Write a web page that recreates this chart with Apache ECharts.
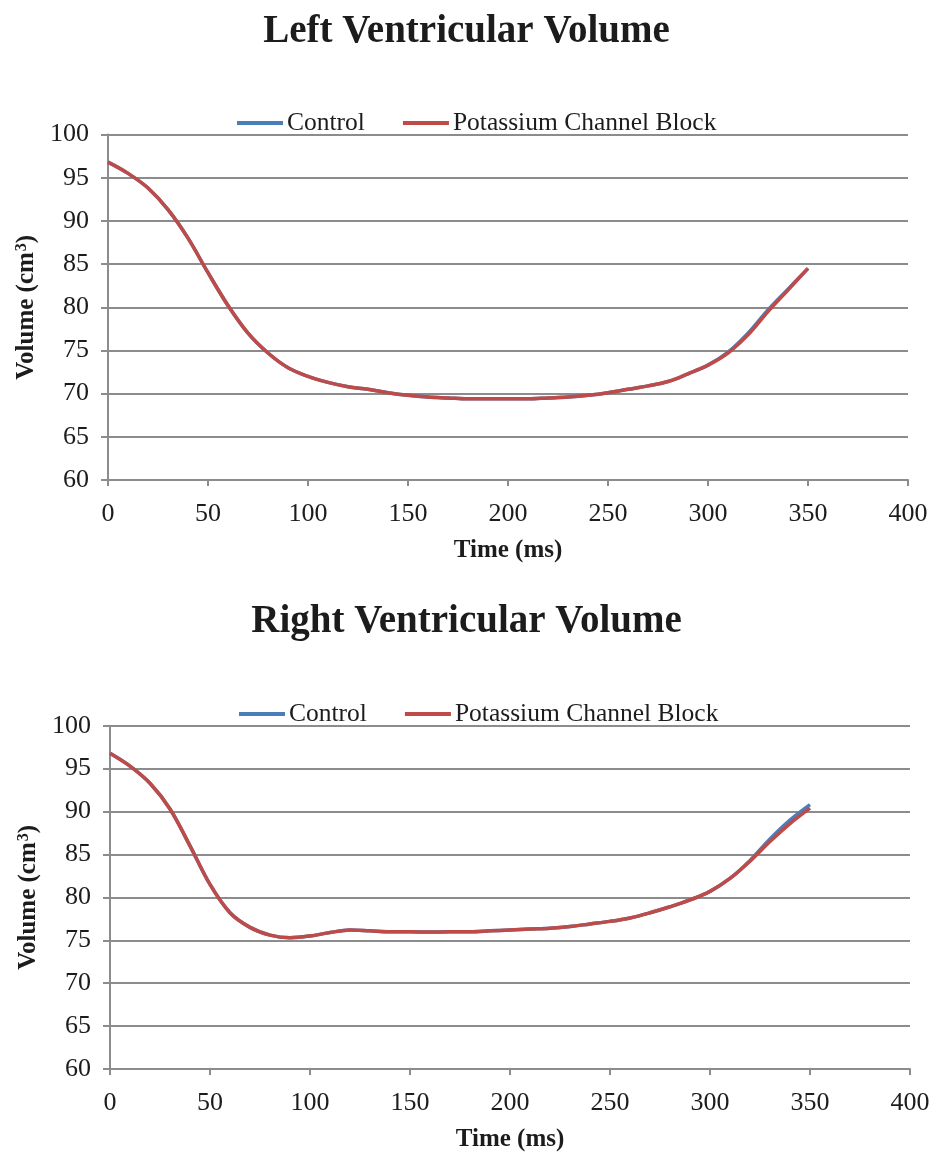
<!DOCTYPE html>
<html>
<head>
<meta charset="utf-8">
<script src="https://cdn.jsdelivr.net/npm/echarts@6/dist/echarts.min.js"></script>
<style>
  html, body { margin: 0; padding: 0; background: #fff; }
  #chart { width: 933px; height: 1153px; }
</style>
</head>
<body>
<div id="chart"></div>
<script>
// Sample times (ms), one point every 10 ms across the cardiac cycle
const times = [0, 10, 20, 30, 40, 50, 60, 70, 80, 90, 100, 110, 120, 130, 140, 150, 160, 170,
  180, 190, 200, 210, 220, 230, 240, 250, 260, 270, 280, 290, 300, 310, 320, 330, 340, 350];

// Left ventricular volume (cm^3)
const lvControl = [96.8, 95.5, 93.8, 91.3, 88.0, 84.0, 80.2, 77.0, 74.7, 73.0, 72.0, 71.3, 70.8,
  70.5, 70.1, 69.8, 69.6, 69.5, 69.4, 69.4, 69.4, 69.4, 69.5, 69.6, 69.8, 70.1, 70.5, 70.9,
  71.4, 72.3, 73.3, 74.8, 77.0, 79.7, 82.1, 84.5];
const lvBlock = [96.8, 95.5, 93.8, 91.3, 88.0, 84.0, 80.2, 77.0, 74.7, 73.0, 72.0, 71.3, 70.8,
  70.5, 70.1, 69.8, 69.6, 69.5, 69.4, 69.4, 69.4, 69.4, 69.5, 69.6, 69.8, 70.1, 70.5, 70.9,
  71.4, 72.3, 73.3, 74.7, 76.8, 79.5, 82.0, 84.5];

// Right ventricular volume (cm^3)
const rvControl = [96.8, 95.3, 93.3, 90.3, 86.0, 81.5, 78.2, 76.5, 75.6, 75.3, 75.5, 75.9, 76.2,
  76.1, 76.0, 76.0, 75.95, 76.0, 76.0, 76.1, 76.2, 76.3, 76.4, 76.6, 76.9, 77.2, 77.6, 78.2,
  78.9, 79.7, 80.7, 82.2, 84.3, 86.8, 89.0, 90.8];
const rvBlock = [96.8, 95.3, 93.3, 90.3, 86.0, 81.5, 78.2, 76.5, 75.6, 75.3, 75.5, 75.9, 76.2,
  76.1, 76.0, 76.0, 75.95, 76.0, 76.0, 76.1, 76.2, 76.3, 76.4, 76.6, 76.9, 77.2, 77.6, 78.2,
  78.9, 79.7, 80.7, 82.2, 84.2, 86.5, 88.6, 90.4];

const chartTitles = ['Left Ventricular Volume', 'Right Ventricular Volume'];
const seriesNames = ['Control', 'Potassium Channel Block'];
const xAxisTitle = 'Time (ms)';
// y-axis title with a superscript "3" drawn through rich text
const yAxisTitle = '{b|Volume (cm}{s|3}{b|)}';

const FONT = '"Liberation Serif", "Times New Roman", serif';
const BLUE = '#4A7EBB';
const RED = '#BE4B48';
const GRID_GRAY = '#8c8c8c';
const TEXT = '#1c1c1c';

const pairs = (vals) => times.map((t, i) => [t, vals[i]]);

const grids = [
  { left: 108, top: 134.5, width: 800, height: 345.5 },
  { left: 110, top: 725.7, width: 800, height: 345 }
];

function xAxisFor(i) {
  return {
    type: 'value', gridIndex: i, min: 0, max: 400, interval: 50,
    name: xAxisTitle, nameLocation: 'middle', nameGap: 58,
    nameTextStyle: { fontFamily: FONT, fontWeight: 'bold', fontSize: 25, color: TEXT },
    axisLine: { show: true, lineStyle: { color: GRID_GRAY, width: 2 } },
    axisTick: { show: true, length: 6, lineStyle: { color: GRID_GRAY, width: 2 } },
    axisLabel: { fontFamily: FONT, fontSize: 26, color: TEXT, margin: 21 },
    splitLine: { show: false }
  };
}

function yAxisFor(i) {
  return {
    type: 'value', gridIndex: i, min: 60, max: 100, interval: 5,
    name: yAxisTitle, nameLocation: 'middle', nameGap: 64, nameRotate: 90,
    nameTextStyle: {
      color: TEXT,
      rich: {
        b: { fontFamily: FONT, fontWeight: 'bold', fontSize: 25, color: TEXT },
        s: { fontFamily: FONT, fontWeight: 'bold', fontSize: 16, color: TEXT,
             verticalAlign: 'top', padding: [0, 0, 10, 1] }
      }
    },
    axisLine: { show: true, lineStyle: { color: GRID_GRAY, width: 2 } },
    axisTick: { show: true, length: 7, lineStyle: { color: GRID_GRAY, width: 2 } },
    axisLabel: { fontFamily: FONT, fontSize: 26, color: TEXT, margin: 19 },
    splitLine: { show: true, lineStyle: { color: GRID_GRAY, width: 2 } }
  };
}

function lineSeries(name, vals, color, gi) {
  return {
    type: 'line', name, data: pairs(vals), xAxisIndex: gi, yAxisIndex: gi,
    smooth: 0.35, symbol: 'none', animation: false,
    lineStyle: { color, width: 3.5 }, itemStyle: { color }
  };
}

function legendAt(top, left) {
  return {
    top, left, icon: 'rect', itemWidth: 46, itemHeight: 4, itemGap: 38,
    data: seriesNames,
    textStyle: { fontFamily: FONT, fontSize: 25.5, color: TEXT, padding: [0, 0, 0, -1] }
  };
}

const chart = echarts.init(document.getElementById('chart'), null, { renderer: 'canvas' });

chart.setOption({
  backgroundColor: '#ffffff',
  animation: false,
  title: [
    { text: chartTitles[0], left: 'center', top: 7,
      textStyle: { fontFamily: FONT, fontWeight: 'bold', fontSize: 39, color: TEXT } },
    { text: chartTitles[1], left: 'center', top: 597,
      textStyle: { fontFamily: FONT, fontWeight: 'bold', fontSize: 39, color: TEXT } }
  ],
  legend: [legendAt(105, 232), legendAt(696, 234)],
  grid: grids,
  xAxis: [xAxisFor(0), xAxisFor(1)],
  yAxis: [yAxisFor(0), yAxisFor(1)],
  series: [
    lineSeries(seriesNames[0], lvControl, BLUE, 0),
    lineSeries(seriesNames[1], lvBlock, RED, 0),
    lineSeries(seriesNames[0], rvControl, BLUE, 1),
    lineSeries(seriesNames[1], rvBlock, RED, 1)
  ]
});
</script>
</body>
</html>
